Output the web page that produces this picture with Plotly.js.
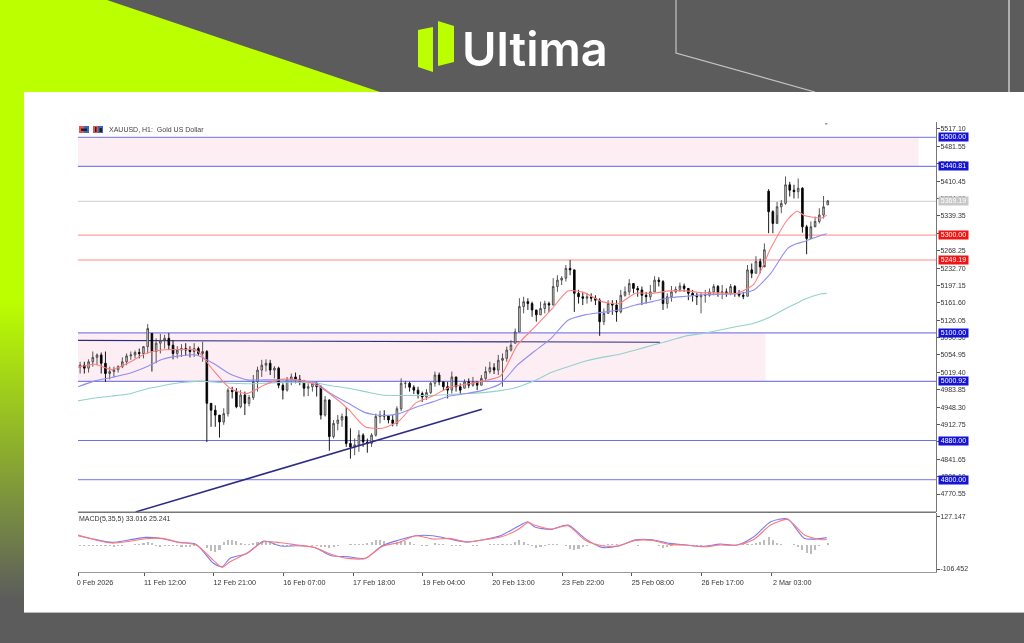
<!DOCTYPE html>
<html><head><meta charset="utf-8">
<script src="https://cdn.plot.ly/plotly-3.0.1.min.js"></script>
<style>
html,body{margin:0;padding:0;width:1024px;height:643px;overflow:hidden;background:#5c5c5c;font-family:"Liberation Sans",sans-serif}
#strip{position:absolute;left:0;top:0;width:24px;height:643px;background:linear-gradient(#bcff00 0,#bcff00 300px,#5c5c5c 600px)}
#wedge{position:absolute;left:0;top:0;width:400px;height:92px;background:#bcff00;clip-path:polygon(0 0,107px 0,380px 92px,0 92px)}
#panel{position:absolute;left:24px;top:92px;width:1000px;height:520px;background:#fff;border-bottom:1px solid #bbb}
#deco{position:absolute;left:0;top:0}
#chart{position:absolute;left:0;top:0;width:1024px;height:643px;filter:blur(0.4px)}
</style></head><body>
<div id="strip"></div><div id="wedge"></div><div id="panel"></div>
<svg id="deco" width="1024" height="92">
<polygon points="418,30 433,27 433,72 418,67" fill="#bcff00"/>
<polygon points="438,21 454,26 454,62 438,66" fill="#bcff00"/>
<polyline points="676,0 676,53 815,92" fill="none" stroke="#c4c4c4" stroke-width="1.2"/>
<line x1="1009" y1="0" x2="1009" y2="92" stroke="#c4c4c4" stroke-width="1.6"/>
</svg>
<div id="chart"></div>
<script>
const opens=[5030,5034,5028,5041,5050,5055,5038,5017,5021,5025,
5031,5041,5053,5055,5060,5058,5072,5099,5062,5079,
5085,5089,5075,5058,5065,5068,5065,5062,5068,5058,
5062,4956,4942,4932,4918,4935,4983,4980,4949,4973,
4956,4968,5000,5024,5034,5038,5024,5028,4993,4983,
5004,5010,5005,5000,4987,4990,4997,4990,4932,4963,
4888,4915,4922,4929,4874,4867,4871,4891,4877,4874,
4891,4929,4932,4930,4922,4915,4945,4997,4997,4989,
4983,4976,4969,4978,4997,5014,5000,4990,4983,5010,
4990,4987,5000,4993,5000,4993,5007,5021,5029,5024,
5044,5048,5065,5079,5102,5154,5164,5160,5147,5137,
5150,5160,5157,5195,5208,5212,5232,5229,5181,5174,
5171,5174,5171,5167,5123,5140,5160,5157,5143,5177,
5184,5201,5191,5188,5177,5174,5184,5208,5205,5160,
5174,5184,5189,5196,5191,5181,5177,5174,5177,5177,
5184,5195,5182,5184,5181,5195,5182,5177,5175,5229,
5222,5246,5235,5390,5348,5324,5358,5365,5403,5392,
5389,5396,5317,5293,5317,5328,5341,5362];
const highs=[5041,5041,5046,5062,5058,5060,5062,5031,5031,5034,
5050,5058,5062,5064,5068,5073,5118,5099,5089,5098,
5096,5100,5085,5073,5077,5079,5073,5079,5072,5082,
5065,4956,4952,4932,4946,4987,4990,4987,4983,4980,
4973,5014,5031,5045,5046,5045,5032,5031,4997,5010,
5017,5019,5014,5004,4997,5000,5000,4993,4971,4964,
4922,4932,4935,4948,4905,4884,4901,4895,4884,4895,
4935,4941,4942,4932,4932,4950,5007,5002,5000,4993,
4990,4980,4985,5000,5021,5019,5000,5000,5021,5010,
4997,5005,5007,5010,5002,5014,5031,5041,5038,5055,
5058,5072,5085,5109,5171,5174,5171,5164,5147,5164,
5166,5164,5212,5218,5216,5239,5249,5229,5188,5184,
5182,5181,5177,5171,5150,5167,5167,5167,5188,5195,
5210,5201,5196,5195,5184,5198,5216,5214,5208,5181,
5196,5195,5203,5201,5189,5188,5182,5184,5188,5191,
5200,5198,5198,5191,5200,5198,5188,5184,5239,5242,
5257,5252,5283,5394,5351,5368,5372,5420,5409,5403,
5416,5398,5321,5328,5338,5355,5380,5372];
const lows=[5017,5017,5019,5031,5034,5017,5000,5005,5010,5019,
5028,5034,5045,5048,5048,5048,5058,5021,5038,5058,
5068,5065,5046,5048,5051,5053,5050,5051,5053,5041,
4877,4908,4908,4886,4912,4929,4966,4946,4946,4932,
4950,4963,4980,5010,5021,5014,5007,4987,4964,4980,
4993,4997,4993,4970,4971,4980,4970,4923,4929,4859,
4884,4901,4908,4867,4843,4850,4857,4867,4855,4867,
4888,4915,4922,4915,4909,4909,4940,4987,4980,4975,
4966,4959,4963,4975,4990,4993,4983,4966,4976,4980,
4975,4987,4987,4990,4983,4993,5004,5017,5016,5014,
4990,5041,5062,5079,5102,5140,5147,5133,5123,5137,
5140,5143,5157,5184,5198,5205,5218,5143,5160,5157,
5160,5164,5157,5094,5116,5140,5137,5123,5140,5174,
5177,5181,5174,5157,5160,5167,5184,5195,5147,5150,
5164,5181,5184,5184,5167,5164,5157,5140,5162,5174,
5177,5174,5169,5174,5177,5174,5173,5169,5175,5212,
5222,5222,5239,5304,5304,5341,5345,5362,5379,5375,
5375,5305,5261,5293,5321,5324,5334,5362];
const closes=[5034,5028,5041,5050,5055,5038,5017,5021,5025,5031,
5041,5053,5055,5060,5058,5072,5109,5062,5079,5085,
5089,5075,5058,5065,5068,5065,5062,5068,5058,5062,
4956,4942,4932,4918,4935,4983,4980,4949,4973,4956,
4968,5000,5024,5034,5038,5024,5028,4993,4983,5004,
5010,5005,5000,4987,4990,4997,4990,4932,4963,4888,
4915,4922,4929,4874,4867,4871,4891,4877,4874,4891,
4929,4932,4930,4922,4915,4945,4997,4997,4989,4983,
4976,4969,4978,4997,5014,5000,4990,4983,5010,4990,
4983,5000,4993,5000,4993,5007,5021,5029,5024,5044,
5048,5065,5075,5102,5154,5164,5160,5147,5137,5150,
5160,5157,5195,5208,5212,5232,5229,5181,5174,5171,
5174,5171,5167,5123,5140,5160,5157,5143,5177,5184,
5201,5191,5188,5177,5174,5184,5208,5205,5160,5174,
5184,5189,5196,5191,5181,5177,5174,5177,5177,5184,
5195,5182,5184,5181,5195,5182,5177,5175,5229,5222,
5246,5235,5270,5348,5324,5358,5365,5403,5392,5389,
5396,5317,5293,5317,5328,5341,5358,5370];

const maBars=[0,8,16,24,32,40,48,56,64,72,80,88,96,104,112,120,128,136,144,152,160,168,176,184,192,200,208,216,224,232,240,248,256,264,272,280,288,296,304,312,320,328,336,340.5,344,352,354.5];
const maRed=[5030,5036,5025,5039,5058,5065,5066,5065,5024,4987,4976,4993,5005,5004,4995,4973,4944,4908,4905,4920,4957,4971,4989,4995,5002,5012,5075,5111,5147,5186,5182,5164,5160,5181,5181,5186,5186,5182,5182,5181,5200,5273,5332,5349,5340,5335,5341];
const maBlue=[4990,5002,5009,5017,5030,5046,5053,5055,5038,5016,5004,5004,5004,5002,4999,4975,4956,4937,4931,4935,4948,4959,4971,4976,4983,4996,5034,5062,5089,5126,5137,5142,5147,5157,5164,5172,5175,5178,5179,5180,5188,5222,5273,5283,5287,5300,5303];
const maTeal=[4961,4967,4971,4975,4985,4992,4998,5001,5000,4997,4996,4997,4999,4999,4998,4992,4987,4980,4973,4972,4972,4972,4974,4976,4978,4982,4989,5002,5019,5031,5042,5050,5056,5065,5075,5084,5094,5099,5106,5113,5120,5133,5152,5161,5169,5180,5181];

const macdBars=[0,8,16,24,32,40,48,56,64,68.2,72,80,88,96,104,112,120,128,136,144,152,160,168,176,184,192,200,208,213,216,224,232,240,248,256,264,272,280,288,296,304,312,320,328,336,344,352,354.5];
const macdMain=[41.5,25.2,11.9,22.2,34.1,28.2,11.9,3,-80,-96,-59,-37,17.8,-4.4,-3,-10.4,-47.5,-51.9,-59.3,-3,22.2,41.5,41.5,26.7,13.3,23.7,41.5,81.6,104,81.6,69.7,89,29.7,-10.4,-4.4,23.7,23.7,7.4,0,-5.9,4.4,0,37,103.8,115.7,29.7,29.7,33];
const macdSignal=[44.5,23.7,8.9,16.3,28.2,29.7,11.9,0,-66.7,-99,-74.2,-35.6,14.8,10.4,0,-10.4,-41.5,-59.3,-59.3,-5.9,11.9,41.5,26.7,29.7,14.8,23.7,35.6,66.7,100,89,71.2,86,22.2,-3,-3,20.8,20.8,3,0,-7.4,0,0,25.2,89,114,44.5,23.7,25];
const macdHist=[-2,-3,-3,-2,-2,-4,-5,-6,-7,-5,
-2,1,2,3,4,8,14,8,-6,-8,
-4,-2,-3,-5,-8,-9,-7,-4,-1,1,
-12,-28,-32,-24,14,22,24,20,10,6,
4,8,12,14,16,10,4,-4,-6,-5,
-3,-1,-1,0,-1,-2,-5,-8,-10,-12,
-8,-3,0,2,4,6,4,6,8,12,
22,24,18,6,0,12,18,20,14,6,
0,-4,-2,2,8,7,3,-1,-5,-6,
-3,-1,0,-4,-2,0,1,3,4,4,
4,5,7,12,22,14,6,-6,-12,-10,
-2,3,5,6,2,-3,-18,-20,-16,-8,
-2,0,1,0,-2,5,6,4,2,1,
1,-1,-2,1,0,1,-1,-3,-14,-10,
-3,-1,1,3,2,0,-2,-3,-1,1,
2,1,1,0,1,1,2,3,4,6,
8,14,22,34,22,10,4,2,1,3,
-8,-20,-36,-38,-20,-6,2,8];

const timeTickBars=[0,31.25,64.25,97.25,130.25,163.25,196.25,229.25,262.25,295.25,328.25];
const timeTickLabels=["0 Feb 2026\u00a0\u00a0\u00a0\u00a0","11 Feb 12:00","12 Feb 21:00","16 Feb 07:00","17 Feb 18:00","19 Feb 04:00","20 Feb 13:00","23 Feb 22:00","25 Feb 08:00","26 Feb 17:00","2 Mar 03:00"];
const priceTicks=[5517.10,5481.55,5446.00,5410.45,5374.90,5339.35,5303.80,5268.25,5232.70,5197.15,5161.60,5126.05,5090.50,5054.95,5019.40,4983.85,4948.30,4912.75,4877.20,4841.65,4806.10,4770.55];
const macdTicks=[127.147,-106.452];

const levelPrices=[5500,5440.81,5369.19,5300,5249.19,5100,5000.92,4880,4800];
const levelLines=["#8c8cf0","#8080ec","#d8d8d8","#ffa0a0","#ff8c8c","#8080ec","#8080ec","#7070e8","#9090f0"];
const levelBadges=["#1414d2","#1414d2","#c8c8c8","#f01414","#f01414","#1414d2","#1414d2","#1414d2","#1414d2"];

const PW=1024,PH=643,barMax=406.25;
const px=v=>v/PW, py=v=>1-v/PH;
const candleBars=closes.map((_,i)=>2*i+1);
const mono="Liberation Sans";
const tf={family:mono,size:7,color:"#333"};

const traces=[
{type:"candlestick",x:candleBars,open:opens,high:highs,low:lows,close:closes,xaxis:"x",yaxis:"y",whiskerwidth:0,
 increasing:{line:{color:"#444",width:0.9},fillcolor:"#d8d8d8"},decreasing:{line:{color:"#000",width:0.9},fillcolor:"#000"},hoverinfo:"skip",showlegend:false},
{type:"scatter",mode:"lines",x:maBars,y:maTeal,line:{color:"#92d2cc",width:1.1,shape:"spline",smoothing:0.6},hoverinfo:"skip",showlegend:false},
{type:"scatter",mode:"lines",x:maBars,y:maBlue,line:{color:"#8f8ff0",width:1.1,shape:"spline",smoothing:0.6},hoverinfo:"skip",showlegend:false},
{type:"scatter",mode:"lines",x:maBars,y:maRed,line:{color:"#ff8080",width:1.1,shape:"spline",smoothing:0.6},hoverinfo:"skip",showlegend:false},
{type:"bar",x:candleBars,y:macdHist,xaxis:"x",yaxis:"y2",width:1,marker:{color:"#bdbdbd",line:{width:0}},hoverinfo:"skip",showlegend:false},
{type:"scatter",mode:"lines",x:macdBars,y:macdMain,xaxis:"x",yaxis:"y2",line:{color:"#7a7af4",width:1.1,shape:"spline",smoothing:0.7},hoverinfo:"skip",showlegend:false},
{type:"scatter",mode:"lines",x:macdBars,y:macdSignal,xaxis:"x",yaxis:"y2",line:{color:"#ff7878",width:1.1,shape:"spline",smoothing:0.7},hoverinfo:"skip",showlegend:false}
];

const shapes=[
{type:"rect",xref:"x",yref:"y",x0:0,x1:398,y0:5440.81,y1:5500,fillcolor:"#fdeef3",line:{width:0},layer:"below"},
{type:"rect",xref:"x",yref:"y",x0:0,x1:325.5,y0:5000.92,y1:5100,fillcolor:"#fdeef3",line:{width:0},layer:"below"}
];
levelPrices.forEach((p,i)=>shapes.push({type:"line",xref:"x",yref:"y",x0:0,x1:barMax,y0:p,y1:p,line:{color:levelLines[i],width:1.2},layer:"below"}));
shapes.push({type:"line",xref:"x",yref:"y",x0:0,x1:275.6,y0:5084.6,y1:5081,line:{color:"#2c2c86",width:1.2},layer:"between"});
shapes.push({type:"line",xref:"x",yref:"y",x0:27.3,x1:191.2,y0:4734,y1:4944,line:{color:"#2c2c86",width:1.6}});
shapes.push({type:"line",xref:"paper",yref:"paper",x0:px(78),x1:px(936),y0:py(512.3),y1:py(512.3),line:{color:"#777",width:1.6}});
[[79,84,"#e05555"],[84,89,"#3a66c4"],[93,98,"#e05555"],[98,103,"#3a66c4"]].forEach(r=>shapes.push({type:"rect",xref:"paper",yref:"paper",x0:px(r[0]),x1:px(r[1]),y0:py(133),y1:py(126),fillcolor:r[2],line:{width:0}}));
[[81,87,128.5,131],[95,96.5,127,132],[99.5,102,128,132]].forEach(r=>shapes.push({type:"rect",xref:"paper",yref:"paper",x0:px(r[0]),x1:px(r[1]),y0:py(r[3]),y1:py(r[2]),fillcolor:"#222",line:{width:0}}));
shapes.push({type:"rect",xref:"paper",yref:"paper",x0:px(825),x1:px(827.5),y0:py(124.5),y1:py(123),fillcolor:"#999",line:{width:0}});

const annotations=levelPrices.map((p,i)=>({xref:"paper",yref:"y",x:px(938),y:p,xanchor:"left",yanchor:"middle",text:p.toFixed(2),showarrow:false,width:29,height:7.5,align:"center",bgcolor:levelBadges[i],borderpad:0,font:{family:mono,size:7,color:"#fff"}}));
annotations.push({xref:"paper",yref:"paper",x:px(107),y:py(129),xanchor:"left",yanchor:"middle",text:"XAUUSD, H1:  Gold US Dollar",showarrow:false,font:{family:mono,size:7,color:"#444"}});
annotations.push({xref:"paper",yref:"paper",x:px(78),y:py(518.5),xanchor:"left",yanchor:"middle",text:"MACD(5,35,5) 33.016 25.241",showarrow:false,font:{family:mono,size:7,color:"#333"},xshift:-1});
annotations.push({xref:"paper",yref:"paper",x:px(460),y:py(48),xanchor:"left",yanchor:"middle",text:"Ultima",showarrow:false,font:{family:"Inter",size:47,color:"#fff",weight:600}});

const layout={
 width:PW,height:PH,margin:{l:0,r:0,t:0,b:0},paper_bgcolor:"rgba(0,0,0,0)",plot_bgcolor:"rgba(0,0,0,0)",showlegend:false,boxgap:0.45,bargap:0,
 xaxis:{domain:[px(78),px(936)],range:[0,barMax],anchor:"y2",rangeslider:{visible:false},tickmode:"array",tickvals:timeTickBars,ticktext:timeTickLabels,
  ticks:"outside",ticklen:3,tickcolor:"#555",tickwidth:1,tickfont:{family:mono,size:7.2,color:"#333"},ticklabelshift:21,ticklabelstandoff:0,showgrid:false,zeroline:false,showline:true,linecolor:"#999",linewidth:1.4,ticklabeloverflow:"allow"},
 yaxis:{domain:[py(512),py(122)],range:[4733.8,5531.4],side:"right",anchor:"x",tickmode:"array",tickvals:priceTicks,ticktext:priceTicks.map(v=>v.toFixed(2)),
  ticks:"outside",ticklen:3,tickcolor:"#555",tickwidth:1,tickfont:tf,ticklabelstandoff:-1,showgrid:false,zeroline:false,showline:true,linecolor:"#777",linewidth:1,ticklabeloverflow:"allow"},
 yaxis2:{domain:[py(572),py(513)],range:[-119.8,142.7],side:"right",anchor:"x",tickmode:"array",tickvals:macdTicks,ticktext:["127.147","-106.452"],
  ticks:"outside",ticklen:3,tickcolor:"#555",tickwidth:1,tickfont:tf,ticklabelstandoff:-1,showgrid:false,zeroline:false,showline:true,linecolor:"#777",linewidth:1,ticklabeloverflow:"allow"},
 shapes,annotations
};
Plotly.newPlot("chart",traces,layout,{staticPlot:true,displayModeBar:false});
</script>
</body></html>
